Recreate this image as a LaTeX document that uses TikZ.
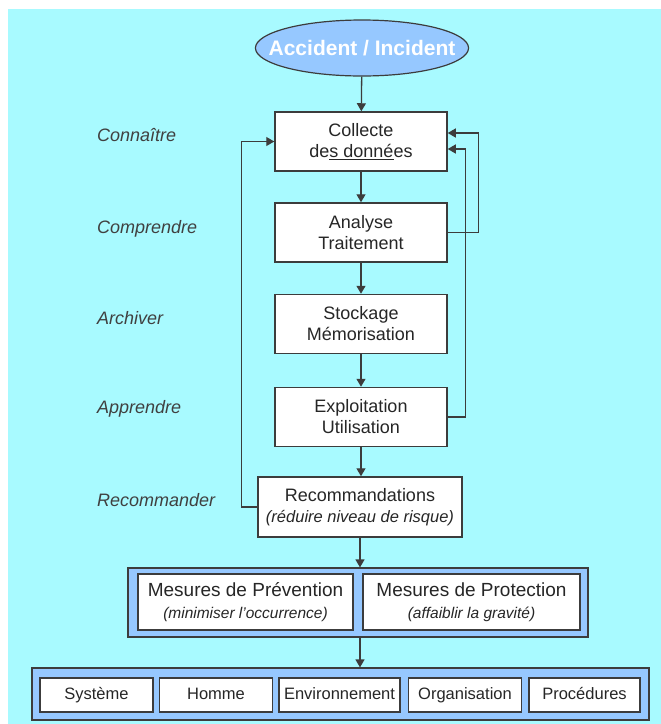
\documentclass[tikz,border=0pt]{standalone}
\usepackage{fontspec}
\setmainfont{Liberation Sans}
\usetikzlibrary{shapes.geometric,arrows.meta}
\definecolor{fond}{RGB}{168,250,255}
\definecolor{bleu}{RGB}{150,200,255}
\definecolor{trait}{RGB}{60,60,60}
\begin{document}
\begin{tikzpicture}[>={Triangle[width=9pt,length=8pt]},x=1pt,y=-1pt,
        boite/.style={draw=trait,line width=1.5pt,fill=white,align=center,text=black!85,inner sep=0pt,
            font=\fontsize{18}{21}\selectfont,minimum width=172pt,minimum height=59pt},
        petit/.style={boite,font=\fontsize{16.5}{19}\selectfont,minimum width=113pt,minimum height=34pt,
            text height=12pt,text depth=3.5pt},
        cadre/.style={draw=trait,line width=1.2pt,fill=bleu,inner sep=0pt},
        etape/.style={anchor=west,inner sep=0pt,text=black!75,font=\fontsize{18}{21}\selectfont\itshape},
        fleche/.style={->,draw=trait,line width=1.3pt}]
    \useasboundingbox (0,0) rectangle (661,724);
    \fill [fond](8,9) rectangle (661,724);
    \node [ellipse,draw=trait,line width=1.2pt,fill=bleu,inner xsep=-18pt,inner ysep=0pt,minimum width=210pt,
        minimum height=56pt,text=white,font=\fontsize{21}{24}\selectfont\bfseries] (acc) at (362,48) {Accident / Incident};
    \node [boite] (col) at (361,141.5) {Collecte\\de\underline{s donné}es};
    \node [boite] (ana) at (361,232.5) {Analyse\\Traitement};
    \node [boite] (sto) at (361,324) {Stockage\\Mémorisation};
    \node [boite] (exp) at (361,417) {Exploitation\\Utilisation};
    \node [boite,minimum width=204pt,minimum height=60pt] (rec) at (360,507)
        {Recommandations\\{\fontsize{16.5}{21}\selectfont\itshape (réduire niveau de risque)}};
    \node [etape] (con) at (97,135) {Connaître};
    \node [etape] (cpr) at (97,229) {Comprendre};
    \node [etape] (arc) at (97,318) {Archiver};
    \node [etape] (app) at (97,409) {Apprendre};
    \node [etape] (rcm) at (97,500) {Recommander};
    % mesures
    \node [cadre,minimum width=460pt,minimum height=69pt] (mes) at (358,602.5) {};
    \node [boite,minimum width=215pt,minimum height=56pt,font=\fontsize{19}{22}\selectfont] (pre) at (245.5,602)
        {Mesures de Prévention\\{\fontsize{15.5}{20}\selectfont\itshape (minimiser l’occurrence)}};
    \node [boite,minimum width=217pt,minimum height=56pt,font=\fontsize{19}{22}\selectfont] (pro) at (471.5,602)
        {Mesures de Protection\\{\fontsize{15.5}{20}\selectfont\itshape (affaiblir la gravité)}};
    % domaines
    \node [cadre,minimum width=617pt,minimum height=52pt] (dom) at (340.5,694) {};
    \node [petit] (sys) at (96.5,695) {Système};
    \node [petit] (hom) at (216,695) {Homme};
    \node [petit,minimum width=121pt] (env) at (339.5,695) {Environnement};
    \node [petit] (org) at (465,695) {Organisation};
    \node [petit,minimum width=111pt] (prc) at (584.5,695) {Procédures};
    % liaisons
    \draw [fleche](acc)--(col);
    \draw [fleche](col)--(ana);
    \draw [fleche](ana)--(sto);
    \draw [fleche](sto)--(exp);
    \draw [fleche](exp)--(exp|-rec.north);
    \draw [fleche](rec)--(rec|-mes.north);
    \draw [fleche](rec|-mes.south)--(rec|-dom.north);
    \draw [fleche](rec.west)--++(-16,0)|-(col.west);
    \draw [fleche](ana.east)--++(31,0)|-([yshift=8.5pt]col.east);
    \draw [fleche](exp.east)--++(18,0)|-([yshift=-7.5pt]col.east);
\end{tikzpicture}
\end{document}
